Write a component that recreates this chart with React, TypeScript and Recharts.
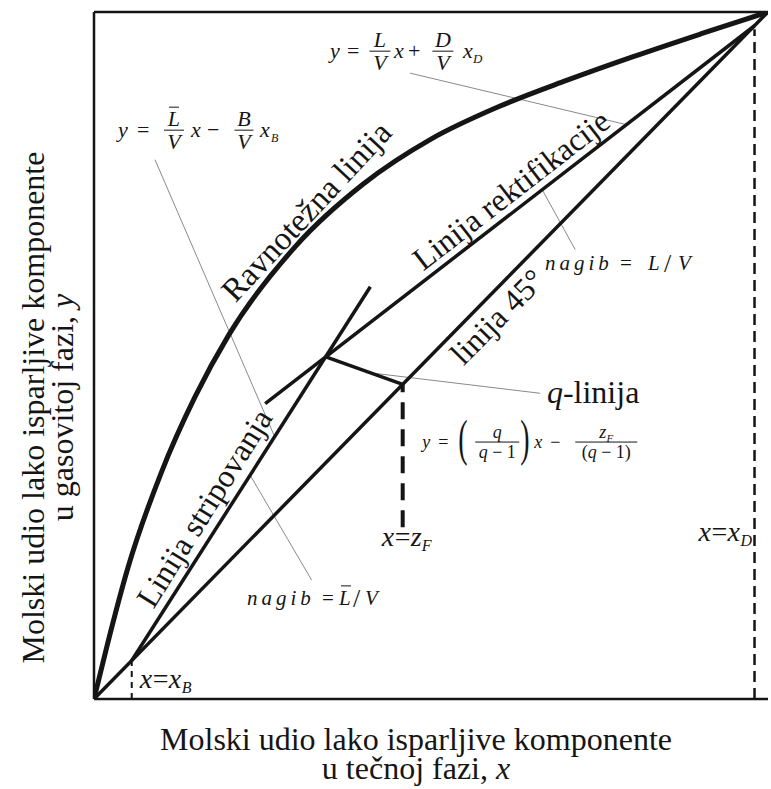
import React from 'react';
import { ComposedChart, Line, XAxis, YAxis, ReferenceLine, ReferenceDot } from 'recharts';

// ravnotežna kriva, očitano sa slike
const eqX = [0, 0.02, 0.05, 0.1, 0.15, 0.2, 0.3, 0.4, 0.5, 0.6, 0.7, 0.8, 0.9, 1];
const eqY = [0, 0.08, 0.19, 0.33, 0.44, 0.53, 0.66, 0.75, 0.815, 0.862, 0.9, 0.935, 0.968, 1];

// karakteristični sastavi
const xB = 0.056;
const zF = 0.458;
const xD = 0.98;

// radne linije (krajnje tačke)
const rectX = [0.254, xD];
const rectY = [0.43, xD];
const stripX = [xB, 0.41];
const stripY = [xB, 0.6];
const qX = [0.344, zF];
const qY = [0.498, zF];
const diagX = [0, 1];
const diagY = [0, 1];

// isprekidane vertikale
const xDdashY = [0, 0.975];
const zFdashY = [0.25, zF];
const xBdashY = [0, xB];

// tanke pokazne linije od natpisa
const lead1X = [0.469, 0.79];
const lead1Y = [0.911, 0.836];
const lead2X = [0.0905, 0.268];
const lead2Y = [0.785, 0.382];
const lead3X = [0.323, 0.2315];
const lead3Y = [0.173, 0.326];
const lead4X = [0.665, 0.714];
const lead4Y = [0.7414, 0.654];
const lead5X = [0.4125, 0.662];
const lead5Y = [0.4745, 0.445];

const pts = (xs: number[], ys: number[]) => xs.map((x, i) => ({ x, y: ys[i] }));

const ink = '#151515';
const grey = '#8a8a8a';

const at = (body: React.ReactNode, rot = 0) => (p: any) => (
    <g transform={`translate(${p.cx},${p.cy}) rotate(${rot})`} fill={ink}>
        {body}
    </g>
);

const Frac = ({ c, w, num, den, fs }: any) => (
    <g>
        <line x1={c - w / 2} x2={c + w / 2} y1={0} y2={0} stroke={ink} strokeWidth={1} />
        <text x={c} y={-4} textAnchor="middle">{num}</text>
        <text x={c} y={fs * 0.66 + 4} textAnchor="middle">{den}</text>
    </g>
);

const seg = (xs: number[], ys: number[], width: number, dash?: string, color = ink, curve = false) => (
    <Line
        data={pts(xs, ys)}
        dataKey="y"
        type={curve ? 'monotone' : 'linear'}
        stroke={color}
        strokeWidth={width}
        strokeDasharray={dash}
        dot={false}
        activeDot={false}
        isAnimationActive={false}
    />
);

const pin = { r: 1, fill: 'none', stroke: 'none', ifOverflow: 'visible' as const };

export default function App() {
    return (
        <div className="mt" style={{ position: 'absolute', left: 0, top: 0, width: 771, height: 789, background: '#fff' }}>
            <style>{`.mt svg text { font-family: 'Liberation Serif', 'Times New Roman', serif; }`}</style>
            <ComposedChart width={771} height={789} margin={{ top: 12, right: 3, bottom: 90, left: 94 }}>
                <XAxis type="number" dataKey="x" domain={[0, 1]} allowDataOverflow hide />
                <YAxis type="number" dataKey="y" domain={[0, 1]} allowDataOverflow hide />

                {/* okvir */}
                <ReferenceLine y={1} stroke={ink} strokeWidth={2.5} />
                <ReferenceLine y={0} stroke={ink} strokeWidth={2.5} />
                <ReferenceLine x={0} stroke={ink} strokeWidth={2.5} />

                {seg(lead1X, lead1Y, 1, undefined, grey)}
                {seg(lead2X, lead2Y, 1, undefined, grey)}
                {seg(lead3X, lead3Y, 1, undefined, grey)}
                {seg(lead4X, lead4Y, 1, undefined, grey)}
                {seg(lead5X, lead5Y, 1, undefined, grey)}

                {seg([xD, xD], xDdashY, 2.5, '11 6')}
                {seg([zF, zF], zFdashY, 4, '17 10')}
                {seg([xB, xB], xBdashY, 2, '6 5')}

                {seg(eqX, eqY, 5, undefined, ink, true)}
                {seg(diagX, diagY, 3.5)}
                {seg(rectX, rectY, 3.5)}
                {seg(stripX, stripY, 3.5)}
                {seg(qX, qY, 3.5)}

                {/* naslovi osa */}
                <ReferenceDot x={0.5} y={0} {...pin}
                    shape={at(
                        <g fontSize={32}>
                            <text x={-15} y={51} textAnchor="middle">Molski udio lako isparljive komponente</text>
                            <text x={-15} y={80} textAnchor="middle">u tečnoj fazi, <tspan fontStyle="italic">x</tspan></text>
                        </g>
                    )} />
                <ReferenceDot x={0} y={0.5} {...pin}
                    shape={at(
                        <g fontSize={32}>
                            <g transform="translate(-50,52) rotate(-90)">
                                <text x={0} y={0} textAnchor="middle">Molski udio lako isparljive komponente</text>
                            </g>
                            <g transform="translate(-21,52) rotate(-90)">
                                <text x={0} y={0} textAnchor="middle">u gasovitoj fazi, <tspan fontStyle="italic">y</tspan></text>
                            </g>
                        </g>
                    )} />

                {/* natpisi uz linije */}
                <ReferenceDot x={0.337} y={0.69} {...pin}
                    shape={at(<text y={-9} fontSize={33} textAnchor="middle">Ravnotežna linija</text>, -47)} />
                <ReferenceDot x={0.636} y={0.7194} {...pin}
                    shape={at(<text y={-8} fontSize={32} textAnchor="middle">Linija rektifikacije</text>, -37.7)} />
                <ReferenceDot x={0.577} y={0.577} {...pin}
                    shape={at(<text y={31} fontSize={32} textAnchor="middle">linija 45°</text>, -45.5)} />
                <ReferenceDot x={0.19} y={0.262} {...pin}
                    shape={at(<text y={-10} fontSize={32} textAnchor="middle">Linija stripovanja</text>, -58)} />

                <ReferenceDot x={0.672} y={0.431} {...pin}
                    shape={at(<text fontSize={32}><tspan fontStyle="italic">q</tspan>-linija</text>)} />

                {/* y = L/V x + D/V xD */}
                <ReferenceDot x={0.35} y={0.943} {...pin}
                    shape={at(
                        <g fontSize={22} fontStyle="italic">
                            <text x={0} y={7}>y</text>
                            <text x={17} y={7} fontStyle="normal">=</text>
                            <Frac c={50} w={21} num="L" den="V" fs={22} />
                            <text x={64} y={7}>x</text>
                            <text x={78} y={7} fontStyle="normal">+</text>
                            <Frac c={113} w={21} num="D" den="V" fs={22} />
                            <text x={133} y={7}>x</text>
                            <text x={143} y={12} fontSize={13}>D</text>
                        </g>
                    )} />

                {/* y = L̄/V x − B/V xB */}
                <ReferenceDot x={0.0356} y={0.828} {...pin}
                    shape={at(
                        <g fontSize={22} fontStyle="italic">
                            <text x={0} y={7}>y</text>
                            <text x={19} y={7} fontStyle="normal">=</text>
                            <Frac c={56} w={20} num="L" den="V" fs={22} />
                            <line x1={51} x2={61} y1={-23} y2={-23} stroke={ink} strokeWidth={1} />
                            <text x={73} y={7}>x</text>
                            <text x={89} y={7} fontStyle="normal">−</text>
                            <Frac c={126} w={19} num="B" den="V" fs={22} />
                            <text x={142} y={7}>x</text>
                            <text x={153} y={12} fontSize={12}>B</text>
                        </g>
                    )} />

                {/* y = (q/(q−1)) x − zF/(q−1) */}
                <ReferenceDot x={0.487} y={0.374} {...pin}
                    shape={at(
                        <g fontSize={18}>
                            <text x={0} y={6} fontStyle="italic">y</text>
                            <text x={16} y={6}>=</text>
                            <text transform="translate(36,13) scale(1,1.8)" fontSize={28}>(</text>
                            <Frac c={75} w={44} fs={18}
                                num={<tspan fontStyle="italic">q</tspan>}
                                den={<><tspan fontStyle="italic">q</tspan> − 1</>} />
                            <text transform="translate(98,13) scale(1,1.8)" fontSize={28}>)</text>
                            <text x={112} y={6} fontStyle="italic">x</text>
                            <text x={128} y={6}>−</text>
                            <Frac c={184} w={62} fs={18}
                                num={<><tspan fontStyle="italic">z</tspan><tspan fontSize={11} fontStyle="italic" dy={4}>F</tspan></>}
                                den={<>(<tspan fontStyle="italic">q</tspan> − 1)</>} />
                        </g>
                    )} />

                {/* nagib = L/V */}
                <ReferenceDot x={0.669} y={0.624} {...pin}
                    shape={at(
                        <g fontSize={21} fontStyle="italic">
                            <text x={0} y={0} letterSpacing={4}>nagib</text>
                            <text x={75} y={0} fontStyle="normal">=</text>
                            <text x={103} y={0}>L</text>
                            <text x={119} y={2} fontStyle="normal" fontSize={26} fontWeight={300}>/</text>
                            <text x={133} y={0}>V</text>
                        </g>
                    )} />

                {/* nagib = L̄/V */}
                <ReferenceDot x={0.227} y={0.137} {...pin}
                    shape={at(
                        <g fontSize={21} fontStyle="italic">
                            <text x={0} y={0} letterSpacing={4}>nagib</text>
                            <text x={75} y={0} fontStyle="normal">=</text>
                            <text x={92} y={0}>L</text>
                            <line x1={94} x2={104} y1={-19} y2={-19} stroke={ink} strokeWidth={1} />
                            <text x={106} y={2} fontStyle="normal" fontSize={26} fontWeight={300}>/</text>
                            <text x={118} y={0}>V</text>
                        </g>
                    )} />

                {/* x = xD, x = zF, x = xB */}
                <ReferenceDot x={0.897} y={0.23} {...pin}
                    shape={at(
                        <g fontSize={28}>
                            <text x={0} y={0} fontStyle="italic">x</text>
                            <text x={13} y={0}>=</text>
                            <text x={29} y={0} fontStyle="italic">x</text>
                            <text x={42} y={5} fontSize={16} fontStyle="italic">D</text>
                        </g>
                    )} />
                <ReferenceDot x={zF} y={0.222} {...pin}
                    shape={at(
                        <g fontSize={28}>
                            <text x={-21} y={0} fontStyle="italic">x</text>
                            <text x={0} y={0} textAnchor="middle">=</text>
                            <text x={8} y={0} fontStyle="italic">z</text>
                            <text x={19} y={5} fontSize={16} fontStyle="italic">F</text>
                        </g>
                    )} />
                <ReferenceDot x={0.068} y={0.016} {...pin}
                    shape={at(
                        <g fontSize={28}>
                            <text x={0} y={0} fontStyle="italic">x</text>
                            <text x={13} y={0}>=</text>
                            <text x={29} y={0} fontStyle="italic">x</text>
                            <text x={42} y={5} fontSize={16} fontStyle="italic">B</text>
                        </g>
                    )} />
            </ComposedChart>
        </div>
    );
}
